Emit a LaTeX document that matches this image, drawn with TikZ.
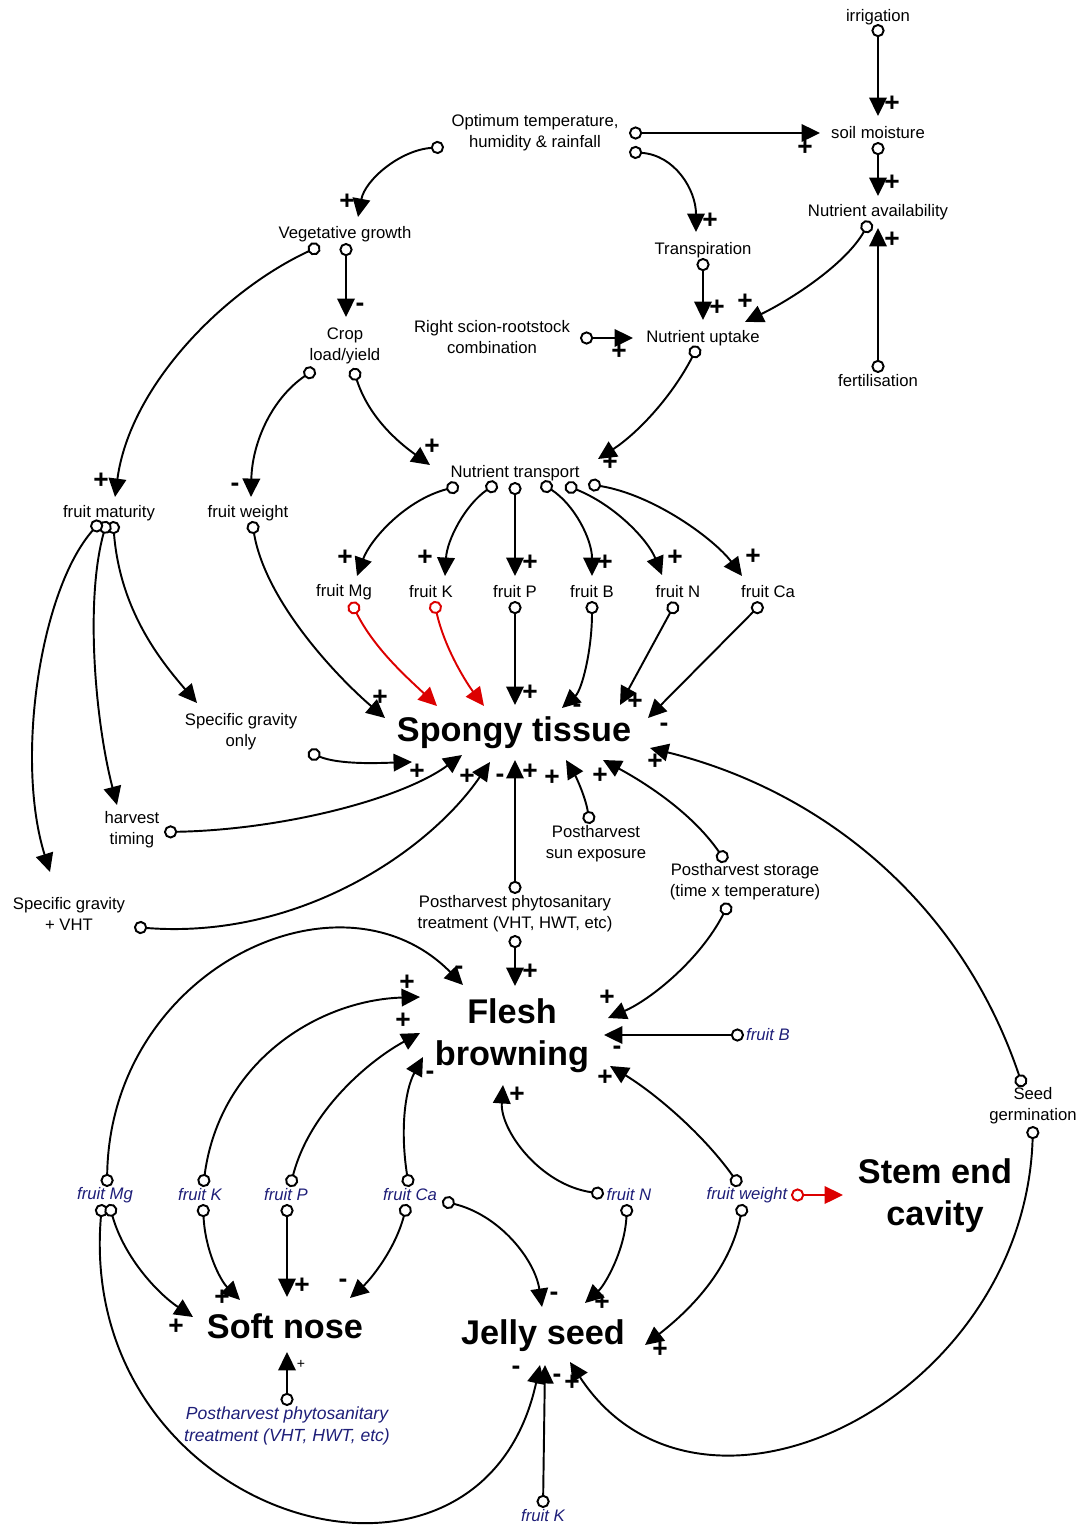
\documentclass[tikz,border=0pt]{standalone}
\usepackage{fontspec}
\setmainfont{Liberation Sans}
\usepackage{tikz}
\usetikzlibrary{arrows.meta}
\definecolor{linkred}{RGB}{220, 0, 0}
\definecolor{varblue}{RGB}{30, 30, 120}

\begin{document}
\begin{tikzpicture}[
  x=0.02cm, y=-0.02cm,
  var/.style={inner sep=0pt, align=center, font=\fontsize{9.5}{12}\selectfont},
  ivar/.style={var, text=varblue, font=\fontsize{9.5}{12}\selectfont\itshape},
  big/.style={inner sep=0pt, align=center, font=\fontsize{19.5}{24}\selectfont\bfseries},
  link/.style={line width=1.1pt, {Circle[fill=white, length=7.5pt]}-{Triangle[length=10.5pt, width=10pt]}},
  redlink/.style={link, linkred},
  sgn/.style={inner sep=0pt, font=\fontsize{15}{15}\selectfont\bfseries},
]
  \useasboundingbox (0,0) rectangle (1082,1525);

  % --- variables ---
  \node[var] (irr)    at (878,17)  {irrigation};
  \node[var] (soil)   at (878,133) {soil moisture};
  \node[var] (avail)  at (878,212) {Nutrient availability};
  \node[var] (fert)   at (878,381) {fertilisation};
  \node[var] (opt)    at (535,133) {Optimum temperature,\\humidity \& rainfall};
  \node[var] (veg)    at (345,234) {Vegetative growth};
  \node[var] (transp) at (703,250) {Transpiration};
  \node[var] (scion)  at (492,337) {Right scion-rootstock\\combination};
  \node[var] (uptake) at (703,338) {Nutrient uptake};
  \node[var] (crop)   at (345,346) {Crop\\load/yield};
  \node[var] (trans)  at (515,473) {Nutrient transport};
  \node[var] (mat)    at (109,513) {fruit maturity};
  \node[var] (wt)     at (248,513) {fruit weight};
  \foreach \n/\x/\t in {mg/344/Mg, k/431/K, p/515/P, b/592/B, n/678/N, ca/768/Ca}
    \node[var] (\n) at (\x,592) {fruit \t};
  \node[big] (spongy) at (514,733) {Spongy tissue};
  \node[var] (sgo)    at (241,732) {Specific gravity\\only};
  \node[var] (ht)     at (132,830) {harvest\\timing};
  \node[var] (sgv)    at (69,914)  {Specific gravity\\+ VHT};
  \node[var] (sun)    at (596,844) {Postharvest\\sun exposure};
  \node[var] (st)     at (745,882) {Postharvest storage\\(time x temperature)};
  \node[var] (pt)     at (515,914) {Postharvest phytosanitary\\treatment (VHT, HWT, etc)};
  \node[big] (fb)     at (512,1036) {Flesh\\browning};
  \node[ivar] (bB)    at (768,1035) {fruit B};
  \node[var] (germ)   at (1033,1106) {Seed\\germination};
  \foreach \n/\x/\t in {bMg/105/Mg, bK/200/K, bP/286/P, bCa/410/Ca, bN/629/N, bW/747/weight}
    \node[ivar] (\n) at (\x,1195) {fruit \t};
  \node[big] (sec)    at (935,1196) {Stem end\\cavity};
  \node[big] (sn)     at (285,1326) {Soft nose};
  \node[big] (js)     at (543,1336) {Jelly seed};
  \node[ivar, font=\fontsize{10}{12.5}\selectfont\itshape] (bT) at (287,1426)
    {Postharvest phytosanitary\\treatment (VHT, HWT, etc)};
  \node[ivar] (bK2)   at (543,1516) {fruit K};

  % --- link ends ---
  \foreach \c/\x/\y in {
    irr-o/878/24, soil-i1/878/116, opt-o1/629/133, soil-i2/820/133,
    soil-o/878/142, avail-i1/878/196, fert-o/878/373, avail-i2/878/228,
    opt-o2/629/152, transp-i/696/232, avail-o/870/221, uptake-i1/745/322,
    transp-o/703/258, uptake-i2/703/320, scion-o/580/338, uptake-i3/633/338,
    opt-o3/444/147, veg-i/358/217, veg-o1/346/243, crop-i/346/317,
    veg-o2/320/246, mat-i/115/497, crop-o1/315/369, wt-i/251/497,
    crop-o2/353/368, trans-i1/430/465, uptake-o/698/346, trans-i2/598/459,
    trans-o1/459/486, trans-o2/497/483, trans-o3/515/482, trans-o4/541/483,
    trans-o5/565/485, trans-o6/588/484,
    mg-i/357/576, k-i/445/576, p-i/515/576, b-i/592/576, n-i/662/575, ca-i/742/576,
    mg-o/351/602, k-o/434/601, p-o/515/601, b-o/592/601, n-o/676/602, ca-o/762/603,
    sp-i1/437/706, sp-i2/484/706, sp-i3/515/705, sp-i4/562/708, sp-i5/620/705,
    sp-i6/648/718, wt-o/252/521, sp-i7/385/718,
    mat-o1/101/521, mat-o2/107/521, mat-o3/113/521,
    sgo-i/197/703, ht-i/117/805, sgv-i/50/872,
    sgo-o/308/752, sp-i8/412/762, ht-o/164/832, sp-i9/462/755,
    sgv-o/134/927, sp-i10/490/762, pt-o1/515/894, sp-i11/515/760,
    sun-o/590/824, sp-i12/566/760, st-o1/726/862, sp-i13/603/760,
    germ-o1/1023/1087, sp-i14/650/748,
    pt-o2/515/935, fb-i1/515/986, st-o2/729/903, fb-i2/608/1018,
    bB-o/744/1035, fb-i3/604/1035, bW-o1/740/1186, fb-i4/610/1066,
    bN-o1/604/1194, fb-i5/503/1085, bCa-o1/409/1187, fb-i6/423/1057,
    bP-o1/290/1187, fb-i7/420/1033, bK-o1/203/1187, fb-i8/420/997,
    bMg-o1/107/1187, fb-i9/463/985, bW-o2/791/1195, sec-i/843/1195,
    bMg-o2/102/1204, js-i1/540/1365, bMg-o3/109/1204, sn-i1/193/1317,
    bK-o2/203/1204, sn-i2/240/1300, bP-o2/287/1204, sn-i3/287/1297,
    bCa-o2/407/1204, sn-i4/350/1298, bCa-o3/442/1201, js-i2/542/1307,
    bN-o2/627/1204, js-i3/585/1303, bW-o3/743/1204, js-i4/645/1345,
    bT-o/287/1406, sn-i5/287/1352, bK2-o/543/1508, js-i5/545/1365,
    germ-o2/1033/1126, js-i6/570/1362%
  }
    \coordinate (\c) at (\x,\y);

  % --- straight links ---
  \foreach \a/\b in {irr-o/soil-i1, opt-o1/soil-i2, soil-o/avail-i1, fert-o/avail-i2,
      transp-o/uptake-i2, scion-o/uptake-i3, veg-o1/crop-i, trans-o3/p-i,
      p-o/sp-i3, n-o/sp-i5, ca-o/sp-i6, pt-o1/sp-i11, pt-o2/fb-i1, bB-o/fb-i3,
      bP-o2/sn-i3, bT-o/sn-i5, bK2-o/js-i5}
    \draw[link] (\a) -- (\b);

  % --- curved links, top ---
  \draw[link] (opt-o2) .. controls (675,155) and (696,190) .. (transp-i);
  \draw[link] (avail-o) .. controls (845,265) and (790,300) .. (uptake-i1);
  \draw[link] (opt-o3) .. controls (400,150) and (365,180) .. (veg-i);
  \draw[link] (veg-o2) .. controls (225,290) and (130,385) .. (mat-i);
  \draw[link] (crop-o1) .. controls (270,400) and (252,445) .. (wt-i);
  \draw[link] (crop-o2) .. controls (368,415) and (395,440) .. (trans-i1);
  \draw[link] (uptake-o) .. controls (670,400) and (635,435) .. (trans-i2);
  \draw[link] (trans-o1) .. controls (405,500) and (370,540) .. (mg-i);
  \draw[link] (trans-o2) .. controls (465,505) and (447,540) .. (k-i);
  \draw[link] (trans-o4) .. controls (575,505) and (592,540) .. (b-i);
  \draw[link] (trans-o5) .. controls (615,505) and (648,540) .. (n-i);
  \draw[link] (trans-o6) .. controls (655,495) and (715,540) .. (ca-i);

  % --- into spongy tissue ---
  \draw[redlink] (mg-o) .. controls (375,650) and (410,680) .. (sp-i1);
  \draw[redlink] (k-o) .. controls (445,650) and (468,685) .. (sp-i2);
  \draw[link] (b-o) .. controls (592,650) and (582,690) .. (sp-i4);
  \draw[link] (wt-o) .. controls (265,600) and (335,675) .. (sp-i7);
  \draw[link] (mat-o3) .. controls (120,610) and (160,660) .. (sgo-i);
  \draw[link] (mat-o2) .. controls (85,600) and (95,720) .. (ht-i);
  \draw[link] (mat-o1) .. controls (40,590) and (15,760) .. (sgv-i);
  \draw[link] (sgo-o) .. controls (340,765) and (380,763) .. (sp-i8);
  \draw[link] (ht-o) .. controls (280,830) and (400,800) .. (sp-i9);
  \draw[link] (sgv-o) .. controls (300,940) and (430,850) .. (sp-i10);
  \draw[link] (sun-o) .. controls (585,795) and (575,775) .. (sp-i12);
  \draw[link] (st-o1) .. controls (690,810) and (640,780) .. (sp-i13);
  \draw[link] (germ-o1) .. controls (960,900) and (820,790) .. (sp-i14);

  % --- into flesh browning ---
  \draw[link] (st-o2) .. controls (700,960) and (650,1000) .. (fb-i2);
  \draw[link] (bW-o1) .. controls (700,1130) and (650,1090) .. (fb-i4);
  \draw[link] (bN-o1) .. controls (540,1185) and (500,1130) .. (fb-i5);
  \draw[link] (bCa-o1) .. controls (400,1130) and (405,1090) .. (fb-i6);
  \draw[link] (bP-o1) .. controls (310,1110) and (370,1060) .. (fb-i7);
  \draw[link] (bK-o1) .. controls (220,1060) and (320,1000) .. (fb-i8);
  \draw[link] (bMg-o1) .. controls (110,970) and (340,860) .. (fb-i9);
  \draw[redlink] (bW-o2) -- (sec-i);

  % --- soft nose, jelly seed ---
  \draw[link] (bMg-o2) .. controls (75,1520) and (480,1640) .. (js-i1);
  \draw[link] (bMg-o3) .. controls (125,1260) and (160,1295) .. (sn-i1);
  \draw[link] (bK-o2) .. controls (205,1250) and (220,1280) .. (sn-i2);
  \draw[link] (bCa-o2) .. controls (395,1250) and (370,1280) .. (sn-i4);
  \draw[link] (bCa-o3) .. controls (500,1215) and (535,1260) .. (js-i2);
  \draw[link] (bN-o2) .. controls (625,1250) and (605,1285) .. (js-i3);
  \draw[link] (bW-o3) .. controls (730,1270) and (690,1310) .. (js-i4);
  \draw[link] (germ-o2) .. controls (1025,1400) and (700,1560) .. (js-i6);

  % --- polarity ---
  \foreach \x/\y/\s [count=\i] in {
    892/104/+, 805/148/+, 892/183/+, 892/240/+, 710/221/+, 745/302/+, 717/308/+,
    619/352/+, 347/202/+, 360/307/-, 101/481/+, 235/487/-, 432/447/+, 610/463/+,
    345/558/+, 425/558/+, 530/563/+, 605/563/+, 675/558/+, 753/557/+,
    530/693/+, 577/708/-, 635/702/+, 664/727/-, 380/698/+,
    417/772/+, 467/777/+, 500/778/-, 530/772/+, 552/778/+, 600/776/+, 655/762/+,
    530/972/+, 607/998/+, 617/1050/-, 605/1078/+, 517/1095/+, 430/1075/-,
    403/1021/+, 407/983/+, 459/970/-,
    516/1370/-, 176/1327/+, 222/1298/+, 302/1286/+, 343/1283/-, 554/1296/-,
    602/1303/+, 660/1350/+, 557/1378/-, 572/1383/+}
    \node[sgn] (sg\i) at (\x,\y) {\s};
  \node[sgn, font=\fontsize{8}{8}\selectfont] (sgT) at (301,1364) {+};

\end{tikzpicture}
\end{document}
